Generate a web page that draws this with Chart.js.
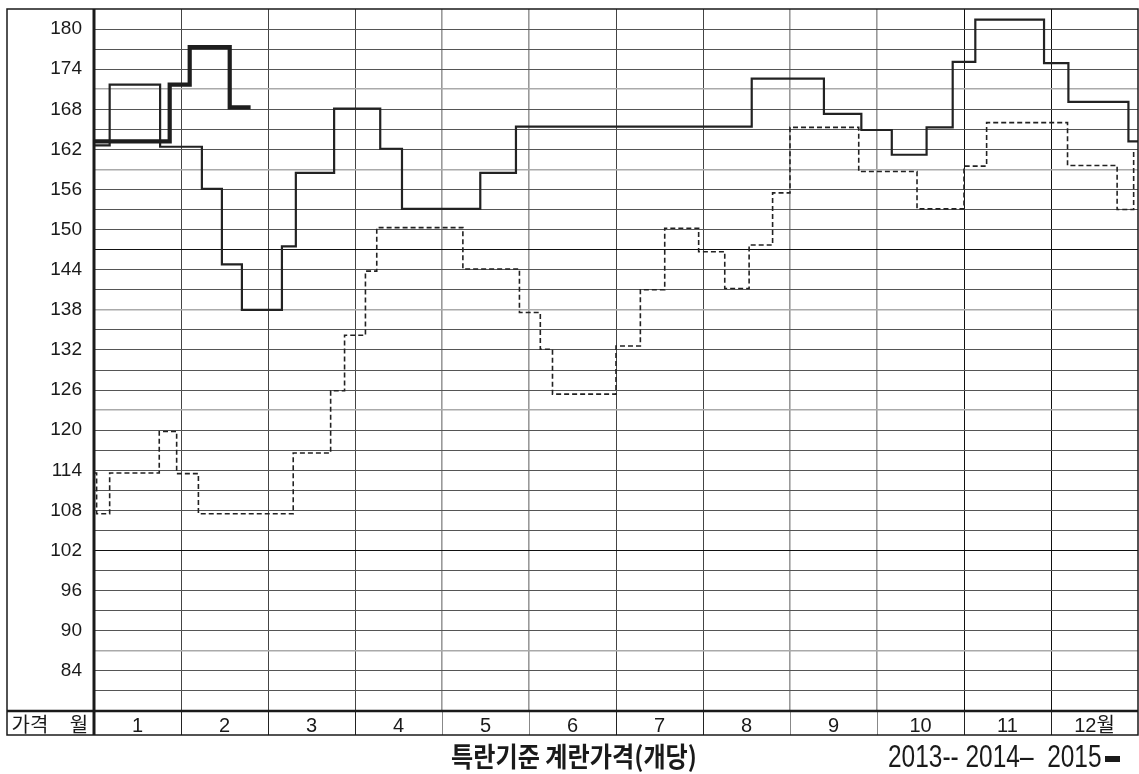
<!DOCTYPE html>
<html>
<head>
<meta charset="utf-8">
<script src="https://cdn.jsdelivr.net/npm/chart.js@4.4.1/dist/chart.umd.min.js"></script>
<style>
  html, body { margin: 0; padding: 0; background: #fff; }
  #wrap { position: relative; width: 1139px; height: 774px; }
  .note { position: absolute; white-space: nowrap; color: #1a1a1a; transform-origin: 0 0; line-height: 1; }
  #title { font-family: 'Noto Sans CJK KR', sans-serif; font-weight: 700; font-size: 27px; }
  #years { font-family: 'Liberation Sans Narrow', 'Liberation Sans', sans-serif; font-size: 31px; }
  .bar { display: inline-block; width: 19px; height: 6px; background: #1a1a1a; vertical-align: middle; margin-left: 4px; }
</style>
</head>
<body>
<div id="wrap">
  <canvas id="chart"></canvas>
  <div id="title" class="note">특란기준 계란가격(개당)</div>
  <div id="years" class="note">2013-- 2014–&nbsp; 2015<span class="bar"></span></div>
</div>
<script>
// 월 라벨, 가격 눈금
const monthLabels = ['1', '2', '3', '4', '5', '6', '7', '8', '9', '10', '11', '12월'];
const yLabelValues = [84, 90, 96, 102, 108, 114, 120, 126, 132, 138, 144, 150, 156, 162, 168, 174, 180];

// x = 월 위치(0~12), v = 가격(원)
const x2013 = [0, 0.03, 0.18, 0.75, 0.95, 1.20, 2.29, 2.72, 2.88, 3.12, 3.25, 4.24, 4.89, 5.13, 5.27,
               6.00, 6.28, 6.56, 6.95, 7.25, 7.53, 7.80, 8.00, 8.79, 9.46, 10.00, 10.26, 11.19, 11.76, 11.95];
const v2013 = [113.6, 107.5, 113.6, 119.8, 113.5, 107.5, 116.6, 125.9, 134.2, 143.8, 150.3, 144.1, 137.6, 132.1, 125.4,
               132.6, 141.0, 150.2, 146.7, 141.2, 147.7, 155.5, 165.3, 158.7, 153.1, 159.5, 166.0, 159.6, 153.0, 161.7];

const x2014 = [0, 0.18, 0.76, 1.24, 1.47, 1.70, 2.16, 2.32, 2.76, 3.29, 3.54, 4.44, 4.85,
               7.56, 8.39, 8.82, 9.17, 9.57, 9.87, 10.13, 10.92, 11.20, 11.89, 12];
const v2014 = [162.6, 171.7, 162.4, 156.1, 144.8, 138.0, 147.5, 158.5, 168.1, 162.1, 153.1, 158.5, 165.4,
               172.6, 167.3, 164.9, 161.2, 165.3, 175.1, 181.4, 174.9, 169.1, 163.2, 163.2];

const x2015 = [0, 0.87, 1.10, 1.56, 1.80];
const v2015 = [163.2, 171.7, 177.3, 168.3, 168.3];

const toPoints = (xs, vs) => xs.map((x, i) => ({ x: x, y: vs[i] }));

const darkY = [102, 147];
const greyY = [87, 123, 138, 159, 171];
const darkX = [10, 11];
const greyX = [4, 5, 8, 9];

// 테두리, 월 칸 구분선, 좌측 "가격 월" 칸
const framePlugin = {
  id: 'frame',
  afterDraw(chart) {
    const { ctx, chartArea: a } = chart;
    const xs = chart.scales.x;
    const rowBottom = a.bottom + 24;
    const line = (x1, y1, x2, y2) => { ctx.beginPath(); ctx.moveTo(x1, y1); ctx.lineTo(x2, y2); ctx.stroke(); };
    ctx.save();
    for (let m = 1; m < 12; m++) {
      const px = Math.round(xs.getPixelForValue(m)) + 0.5;
      ctx.lineWidth = 1;
      ctx.strokeStyle = greyX.includes(m) ? '#888' : '#222';
      line(px, a.bottom, px, rowBottom);
    }
    ctx.strokeStyle = '#1a1a1a';
    ctx.lineWidth = 1.5;
    ctx.strokeRect(7, a.top, a.right - 7, rowBottom - a.top);
    ctx.lineWidth = 3;
    line(a.left, a.top, a.left, rowBottom);
    ctx.lineWidth = 2.5;
    line(7, a.bottom, a.right, a.bottom);

    ctx.fillStyle = '#1a1a1a';
    ctx.font = '20px "Noto Sans CJK KR"';
    ctx.textAlign = 'center';
    ctx.textBaseline = 'middle';
    const cy = (a.bottom + rowBottom) / 2 + 1;
    ctx.fillText('가격', 30, cy);
    ctx.fillText('월', 79, cy);
    ctx.restore();
  }
};

Chart.defaults.font.family = "'Liberation Sans', 'Noto Sans CJK KR'";
Chart.defaults.color = '#1a1a1a';

new Chart(document.getElementById('chart'), {
  type: 'line',
  data: {
    datasets: [
      { label: '2015', data: toPoints(x2015, v2015), borderColor: '#1e1e1e', borderWidth: 4.2 },
      { label: '2014', data: toPoints(x2014, v2014), borderColor: '#222', borderWidth: 2.2 },
      { label: '2013', data: toPoints(x2013, v2013), borderColor: '#222', borderWidth: 1.6, borderDash: [5, 3] }
    ]
  },
  options: {
    responsive: true,
    maintainAspectRatio: false,
    animation: false,
    layout: { padding: { top: 9, right: 1, left: 0, bottom: 0 } },
    elements: {
      line: { stepped: true, tension: 0, fill: false },
      point: { radius: 0 }
    },
    plugins: { legend: { display: false }, tooltip: { enabled: false } },
    scales: {
      x: {
        type: 'linear',
        min: 0,
        max: 12,
        afterFit: (s) => { s.height = 63; s.paddingLeft = 0; s.paddingRight = 0; },
        border: { display: false },
        grid: {
          drawTicks: false,
          color: (c) => {
            const v = c.tick.value;
            if (v % 1 !== 0 || v === 0 || v === 12) return 'rgba(0,0,0,0)';
            if (darkX.includes(v)) return '#111';
            if (greyX.includes(v)) return '#999';
            return '#444';
          },
          lineWidth: (c) => (greyX.includes(c.tick.value) ? 1.6 : 1)
        },
        ticks: {
          stepSize: 0.5,
          autoSkip: false,
          maxRotation: 0,
          padding: 3,
          font: { size: 20 },
          callback: (v) => (v % 1 === 0.5 ? monthLabels[Math.floor(v)] : '')
        }
      },
      y: {
        min: 78,
        max: 183,
        afterFit: (s) => { s.width = 94; s.paddingTop = 0; s.paddingBottom = 0; },
        border: { display: false },
        grid: {
          drawTicks: false,
          color: (c) => {
            const v = c.tick.value;
            if (v === 78 || v === 183) return 'rgba(0,0,0,0)';
            if (darkY.includes(v)) return '#111';
            if (greyY.includes(v)) return '#aaa';
            return '#555';
          },
          lineWidth: (c) => (greyY.includes(c.tick.value) ? 1.6 : 1)
        },
        ticks: {
          stepSize: 3,
          autoSkip: false,
          padding: 12,
          font: { size: 19 },
          callback: (v) => (yLabelValues.includes(v) ? String(v) : '')
        }
      }
    }
  },
  plugins: [framePlugin]
});

// 제목과 연도 표시: 원본처럼 좁은 글꼴 폭에 맞춤
function fit(id, left, right, top) {
  const el = document.getElementById(id);
  el.style.left = left + 'px';
  el.style.top = top + 'px';
  const w = el.offsetWidth;
  el.style.transform = 'scaleX(' + ((right - left) / w) + ')';
}
fit('title', 451, 697, 742);
fit('years', 888, 1120, 741);
</script>
</body>
</html>
